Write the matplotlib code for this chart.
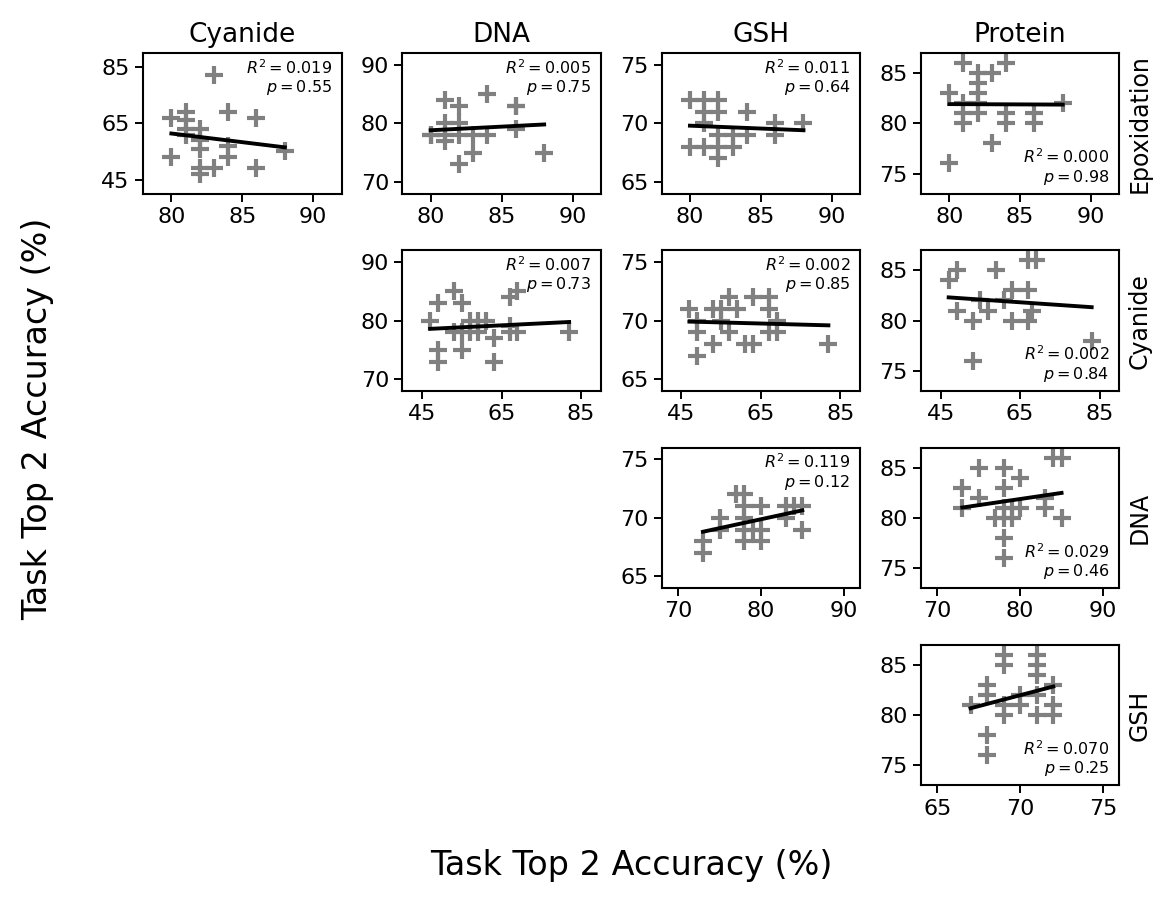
from __future__ import annotations

import matplotlib

matplotlib.use("Agg")

import matplotlib.pyplot as plt
import numpy as np


ROW_TASKS = ["Epoxidation", "Cyanide", "DNA", "GSH"]
COL_TASKS = ["Cyanide", "DNA", "GSH", "Protein"]

TASK_TICKS = {
    "Epoxidation": [80, 85, 90],
    "Cyanide": [45, 65, 85],
    "DNA": [70, 80, 90],
    "GSH": [65, 70, 75],
    "Protein": [75, 80, 85],
}
TASK_LIMITS = {
    "Epoxidation": (78, 92),
    "Cyanide": (40, 90),
    "DNA": (68, 92),
    "GSH": (64, 76),
    "Protein": (73, 87),
}

# Epoxidation row
EPOX_CYANIDE_X = [83, 80, 81, 81, 81, 81, 82, 82, 82, 80, 84, 86, 84, 84, 83, 82, 82, 86, 88]
EPOX_CYANIDE_Y = [82, 67, 69, 66, 63, 61, 63, 59, 56, 53, 69, 67, 57, 53, 49, 49, 47, 49, 55]

EPOX_DNA_X = [80, 80, 81, 81, 81, 81, 82, 82, 82, 82, 83, 83, 84, 84, 86, 86, 86, 88]
EPOX_DNA_Y = [78, 78, 84, 80, 78, 77, 83, 80, 78, 73, 78, 75, 85, 78, 83, 83, 79, 75]

EPOX_GSH_X = [80, 81, 82, 80, 81, 81, 82, 82, 82, 82, 83, 83, 84, 84, 86, 86, 88, 81]
EPOX_GSH_Y = [72, 72, 72, 68, 68, 71, 71, 69, 68, 67, 69, 68, 71, 69, 70, 69, 70, 70]

EPOX_PROTEIN_X = [81, 84, 82, 83, 82, 80, 82, 81, 82, 81, 82, 81, 84, 84, 86, 86, 83, 80, 88]
EPOX_PROTEIN_Y = [86, 86, 85, 85, 84, 83, 83, 82, 82, 81, 81, 80, 81, 80, 81, 80, 78, 76, 82]

# Cyanide row
CYANIDE_DNA_X = [47, 49, 49, 49, 53, 55, 53, 55, 55, 57, 57, 59, 59, 61, 63, 63, 67, 69, 67, 67, 69, 82]
CYANIDE_DNA_Y = [80, 83, 75, 73, 85, 83, 78, 78, 75, 80, 78, 78, 80, 80, 77, 73, 84, 85, 79, 78, 78, 78]

CYANIDE_GSH_X = [47, 49, 49, 49, 53, 53, 55, 55, 57, 57, 59, 61, 63, 63, 67, 67, 67, 69, 69, 82]
CYANIDE_GSH_Y = [71, 70, 69, 67, 68, 71, 71, 70, 72, 69, 71, 68, 68, 72, 72, 71, 69, 70, 69, 68]

CYANIDE_PROTEIN_X = [47, 49, 49, 53, 53, 55, 57, 59, 61, 63, 63, 67, 67, 67, 69, 68, 83]
CYANIDE_PROTEIN_Y = [84, 85, 81, 80, 76, 82, 81, 85, 82, 83, 80, 83, 80, 86, 86, 81, 78]

# DNA row
DNA_GSH_X = [73, 73, 75, 75, 77, 78, 78, 78, 78, 78, 79, 80, 80, 80, 83, 83, 84, 85, 85]
DNA_GSH_Y = [68, 67, 70, 69, 72, 72, 71, 70, 69, 68, 69, 71, 69, 68, 71, 70, 71, 71, 69]

DNA_PROTEIN_X = [73, 73, 75, 75, 78, 78, 80, 77, 78, 78, 79, 79, 80, 78, 78, 83, 83, 85, 84, 85]
DNA_PROTEIN_Y = [83, 81, 85, 82, 85, 83, 84, 80, 81, 80, 80, 81, 81, 78, 76, 82, 81, 80, 86, 86]

# GSH row
GSH_PROTEIN_X = [67, 68, 68, 68, 68, 69, 69, 69, 69, 70, 70, 71, 71, 71, 71, 71, 72, 72, 72]
GSH_PROTEIN_Y = [81, 83, 82, 78, 76, 85, 86, 81, 80, 82, 81, 86, 85, 84, 82, 80, 83, 81, 80]

R2_LABELS = ["0.019", "0.005", "0.011", "0.000", "0.007", "0.002", "0.002", "0.119", "0.029", "0.070"]
P_LABELS = ["0.55", "0.75", "0.64", "0.98", "0.73", "0.85", "0.84", "0.12", "0.46", "0.25"]

PANELS = [
    (0, 0, EPOX_CYANIDE_X, EPOX_CYANIDE_Y),
    (0, 1, EPOX_DNA_X, EPOX_DNA_Y),
    (0, 2, EPOX_GSH_X, EPOX_GSH_Y),
    (0, 3, EPOX_PROTEIN_X, EPOX_PROTEIN_Y),
    (1, 1, CYANIDE_DNA_X, CYANIDE_DNA_Y),
    (1, 2, CYANIDE_GSH_X, CYANIDE_GSH_Y),
    (1, 3, CYANIDE_PROTEIN_X, CYANIDE_PROTEIN_Y),
    (2, 2, DNA_GSH_X, DNA_GSH_Y),
    (2, 3, DNA_PROTEIN_X, DNA_PROTEIN_Y),
    (3, 3, GSH_PROTEIN_X, GSH_PROTEIN_Y),
]


def draw_panel(ax: plt.Axes, row: int, col: int, xs: list[int], ys: list[int], r2: str, p: str) -> None:
    x_task = ROW_TASKS[row]
    y_task = COL_TASKS[col]
    x = np.asarray(xs, dtype=float)
    y = np.asarray(ys, dtype=float)

    ax.scatter(x, y, marker="+", s=150, linewidths=3.0, color="#808080", zorder=2)
    slope, intercept = np.polyfit(x, y, 1)
    fit_x = np.array([x.min(), x.max()])
    ax.plot(fit_x, slope * fit_x + intercept, color="black", linewidth=2.8, zorder=3)

    ax.set_xlim(*TASK_LIMITS[x_task])
    ax.set_ylim(*TASK_LIMITS[y_task])
    ax.set_xticks(TASK_TICKS[x_task])
    ax.set_yticks(TASK_TICKS[y_task])
    ax.tick_params(labelsize=16, length=6, width=1.4)
    for spine in ax.spines.values():
        spine.set_linewidth(1.5)

    label = f"$R^2 = {r2}$\n$p = {p}$"
    if col == 3:
        ax.text(0.95, 0.05, label, transform=ax.transAxes, ha="right", va="bottom", fontsize=11.5, linespacing=1.1)
    else:
        ax.text(0.95, 0.965, label, transform=ax.transAxes, ha="right", va="top", fontsize=11.5, linespacing=1.1)

    if row == 0:
        ax.set_title(COL_TASKS[col], fontsize=19, pad=8)
    if col == 3:
        ax.text(1.04, 0.5, ROW_TASKS[row], transform=ax.transAxes, rotation=90, ha="left", va="center", fontsize=17)


def main() -> None:
    fig, axes = plt.subplots(4, 4, figsize=(11.56, 8.98), dpi=100)
    fig.subplots_adjust(left=0.1237, right=0.9684, top=0.941, bottom=0.1253, wspace=0.3056, hspace=0.403)

    for row in range(4):
        for col in range(4):
            if col < row:
                axes[row, col].set_axis_off()

    for index, (row, col, xs, ys) in enumerate(PANELS):
        draw_panel(axes[row, col], row, col, xs, ys, R2_LABELS[index], P_LABELS[index])

    fig.text(0.546, 0.018, "Task Top 2 Accuracy (%)", ha="center", va="bottom", fontsize=24)
    fig.text(0.018, 0.534, "Task Top 2 Accuracy (%)", ha="left", va="center", rotation=90, fontsize=24)

    fig.savefig("out.png", dpi=100)
    plt.close(fig)


if __name__ == "__main__":
    main()
